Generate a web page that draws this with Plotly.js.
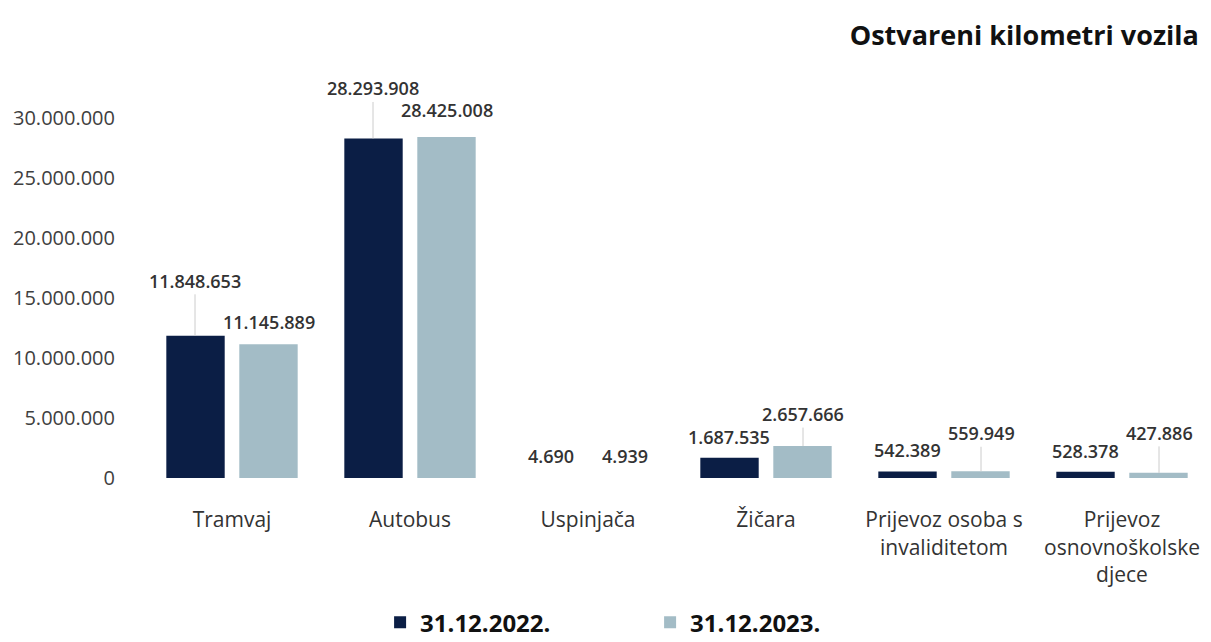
<!DOCTYPE html>
<html>
<head>
<meta charset="utf-8">
<script src="https://cdn.plot.ly/plotly-3.0.1.min.js"></script>
<style>html,body{margin:0;padding:0;background:#fff;}#chart{width:1211px;height:642px;}</style>
</head>
<body>
<div id="chart"></div>
<script>
const categories = ["Tramvaj", "Autobus", "Uspinjača", "Žičara", "Prijevoz osoba s<br>invaliditetom", "Prijevoz<br>osnovnoškolske<br>djece"];
const seriesNames = ["31.12.2022.", "31.12.2023."];
const values2022 = [11848653, 28293908, 4690, 1687535, 542389, 528378];
const values2023 = [11145889, 28425008, 4939, 2657666, 559949, 427886];
const yTickVals = [0, 5000000, 10000000, 15000000, 20000000, 25000000, 30000000];
const yTickText = ["0", "5.000.000", "10.000.000", "15.000.000", "20.000.000", "25.000.000", "30.000.000"];

// label placement (pixels above bar top) and whether a leader line is drawn
const labelLift2022 = [55, 50, 22, 21, 21, 21];
const labelLift2023 = [22, 27, 22, 32, 38, 40];
const leader2022 = [true, true, false, false, false, false];
const leader2023 = [false, false, false, true, true, true];

const colors = ["#0b1e45", "#a3bcc6"];
const fmt = v => v.toLocaleString('de-DE');
const FONT = "'Open Sans', Lato, sans-serif";

const traces = [values2022, values2023].map((vals, i) => ({
  type: 'bar',
  name: seriesNames[i],
  x: categories,
  y: vals,
  marker: {color: colors[i]},
  hoverinfo: 'skip'
}));

const annotations = [];
[[values2022, labelLift2022, leader2022, -37], [values2023, labelLift2023, leader2023, 37]].forEach(([vals, lifts, leaders, xs]) => {
  vals.forEach((v, k) => {
    const a = {
      x: categories[k], y: v, xref: 'x', yref: 'y',
      text: fmt(v), xshift: xs,
      font: {family: FONT, size: 18, color: '#333333', weight: 600},
      bgcolor: 'rgba(0,0,0,0)'
    };
    if (leaders[k]) {
      Object.assign(a, {showarrow: true, arrowhead: 0, arrowwidth: 1, arrowcolor: '#cccccc', ax: 0, ay: -lifts[k], standoff: 0});
    } else {
      Object.assign(a, {showarrow: false, yanchor: 'middle', yshift: lifts[k]});
    }
    annotations.push(a);
  });
});

const layout = {
  width: 1211, height: 642,
  margin: {l: 143, r: 0, t: 118, b: 164},
  paper_bgcolor: '#ffffff', plot_bgcolor: '#ffffff',
  title: {text: '<b>Ostvareni kilometri vozila</b>', x: 0.99, xanchor: 'right', y: 0.945, yanchor: 'middle',
          font: {family: FONT, size: 27, color: '#111111'}},
  barmode: 'group', bargap: 0.18, bargroupgap: 0.2,
  xaxis: {tickfont: {family: FONT, size: 21, color: '#333333'}, showline: false, ticks: 'outside', ticklen: 23,
          tickcolor: 'rgba(0,0,0,0)', showgrid: false, fixedrange: true},
  yaxis: {range: [0, 30000000], tickvals: yTickVals, ticktext: yTickText, showgrid: false, zeroline: false,
          tickfont: {family: FONT, size: 20, color: '#404040'}, ticks: 'outside', ticklen: 23, tickcolor: 'rgba(0,0,0,0)', fixedrange: true},
  showlegend: true,
  legend: {orientation: 'h', xref: 'paper', x: 0.222, xanchor: 'left', yref: 'container', y: 0.03, yanchor: 'middle', entrywidth: 225,
           font: {family: FONT, size: 24, color: '#111111', weight: 'bold'}},
  annotations: annotations
};

Plotly.newPlot('chart', traces, layout, {displayModeBar: false, staticPlot: true});
</script>
</body>
</html>
